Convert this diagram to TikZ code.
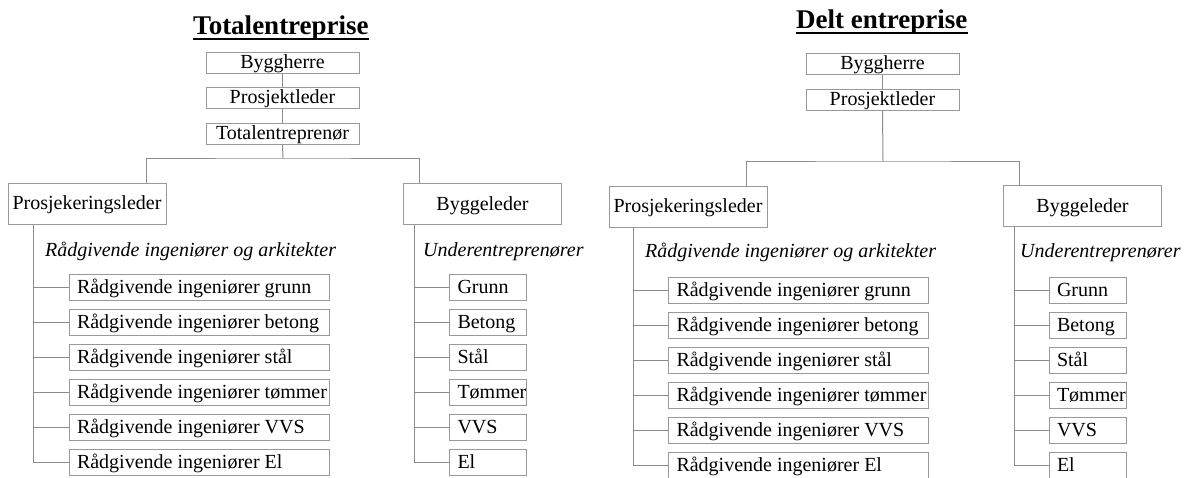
\documentclass[tikz,border=0pt]{standalone}
\usepackage{fontspec}
\setmainfont{Liberation Serif}
\definecolor{boxgray}{gray}{0.6}
\definecolor{linegray}{gray}{0.55}
\newcommand{\wideTxt}[1]{\makebox[244pt][l]{#1}}
\newcommand{\narrowTxt}[1]{\makebox[61pt][l]{#1}}
\begin{document}
\begin{tikzpicture}[x=1pt,y=-1pt,
  box/.style={draw=boxgray, line width=1pt, fill=white, inner sep=0pt,
    font=\fontsize{20}{24}\selectfont, text height=15pt, text depth=3pt},
  topbox/.style={box, minimum width=153pt, minimum height=21pt},
  midbox/.style={box, minimum width=158pt, minimum height=41pt},
  subwide/.style={box, inner xsep=8pt, minimum height=26.5pt},
  subnarrow/.style={box, inner xsep=8pt, minimum height=26.5pt},
  conn/.style={draw=linegray, line width=1pt},
  ttl/.style={font=\fontsize{27}{32}\selectfont\bfseries, inner sep=0pt, anchor=base west},
  lbl/.style={font=\fontsize{20}{24}\selectfont\itshape, inner sep=0pt, anchor=base west},
  uline/.style={line width=1.5pt, black}]
\useasboundingbox (0,0) rectangle (1193,477);

% ---------------- Totalentreprise ----------------
\node[ttl] (t1) at (193,34) {Totalentreprise};
\draw[uline] ([yshift=-5pt]t1.base west) -- ([yshift=-5pt]t1.base east);

\node[topbox] (by1) at (282.5,62.5) {Byggherre};
\node[topbox] (pl1) at (282.5,97.5) {Prosjektleder};
\node[topbox] (te1) at (282.5,133.5) {Totalentreprenør};
\coordinate (busL) at (283,158);
\draw[conn] (by1.south) -- (pl1.north);
\draw[conn] (pl1.south) -- (te1.north);
\draw[conn] (te1.south) -- (busL);

\node[midbox] (pk1) at (87,203.5) {Prosjekeringsleder};
\node[midbox] (bl1) at (482.5,204) {Byggeleder};
\draw[conn] ([xshift=-20pt]pk1.north east) |- (busL) -| ([xshift=16pt]bl1.north west);

\node[lbl] (la1) at (45,256) {Rådgivende ingeniører og arkitekter};
\node[lbl] (lb1) at (423,256) {Underentreprenører};

\coordinate (spA) at ([xshift=26pt]pk1.south west);
\coordinate (spB) at ([xshift=11pt]bl1.south west);

\foreach \i/\t in {1/grunn,2/betong,3/stål,4/tømmer,5/VVS,6/El}
  \node[subwide] (ra\i) at (199,{287.5+35*(\i-1)}) {\wideTxt{Rådgivende ingeniører \t}};
\foreach \i/\t in {1/Grunn,2/Betong,3/Stål,4/Tømmer,5/VVS,6/El}
  \node[subnarrow] (rb\i) at (488,{287.5+35*(\i-1)}) {\narrowTxt{\t}};
\foreach \i in {1,...,5}{
  \draw[conn] (spA |- ra\i.west) -- (ra\i.west);
  \draw[conn] (spB |- rb\i.west) -- (rb\i.west);
}
\draw[conn] (spA) |- (ra6.west);
\draw[conn] (spB) |- (rb6.west);

% ---------------- Delt entreprise ----------------
\node[ttl] (t2) at (796,28) {Delt entreprise};
\draw[uline] ([yshift=-5pt]t2.base west) -- ([yshift=-5pt]t2.base east);

\node[topbox] (by2) at (882.5,63.5) {Byggherre};
\node[topbox] (pl2) at (882.5,99.5) {Prosjektleder};
\coordinate (busR) at (883,161);
\draw[conn] (by2.south) -- (pl2.north);
\draw[conn] (pl2.south) -- (busR);

\node[midbox] (pk2) at (688,206.5) {Prosjekeringsleder};
\node[midbox] (bl2) at (1082.5,206) {Byggeleder};
\draw[conn] ([xshift=-21pt]pk2.north east) |- (busR) -| ([xshift=16pt]bl2.north west);

\node[lbl] (la2) at (645,257) {Rådgivende ingeniører og arkitekter};
\node[lbl] (lb2) at (1020,257) {Underentreprenører};

\coordinate (spC) at ([xshift=25pt]pk2.south west);
\coordinate (spD) at ([xshift=11pt]bl2.south west);

\foreach \i/\t in {1/grunn,2/betong,3/stål,4/tømmer,5/VVS,6/El}
  \node[subwide, minimum height=26pt] (rc\i) at (798.5,{290+35*(\i-1)}) {\wideTxt{Rådgivende ingeniører \t}};
\foreach \i/\t in {1/Grunn,2/Betong,3/Stål,4/Tømmer,5/VVS,6/El}
  \node[subnarrow, minimum height=26pt] (rd\i) at (1087.5,{290+35*(\i-1)}) {\narrowTxt{\t}};
\foreach \i in {1,...,5}{
  \draw[conn] (spC |- rc\i.west) -- (rc\i.west);
  \draw[conn] (spD |- rd\i.west) -- (rd\i.west);
}
\draw[conn] (spC) |- (rc6.west);
\draw[conn] (spD) |- (rd6.west);
\end{tikzpicture}
\end{document}
